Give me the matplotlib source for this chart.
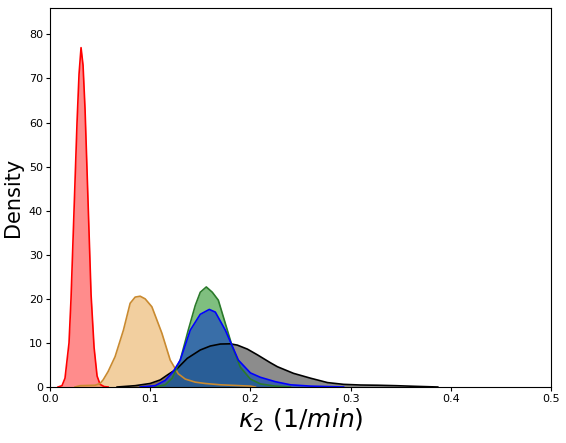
import matplotlib
matplotlib.use("Agg")
import matplotlib.pyplot as plt

# density curves (x in 1/min, y = density)
red_x = [0.008, 0.012, 0.015, 0.019, 0.021, 0.024, 0.027, 0.029, 0.031, 0.033, 0.035, 0.038, 0.041, 0.044, 0.047, 0.050, 0.054, 0.058]
red_y = [0, 0.3, 2, 10, 20, 40, 60, 71, 77, 73, 63, 42, 21, 9, 2.5, 0.6, 0.1, 0]

tan_x = [0.025, 0.030, 0.045, 0.050, 0.053, 0.058, 0.065, 0.0733, 0.080, 0.085, 0.090, 0.095, 0.1017, 0.1117, 0.120, 0.128, 0.135, 0.145, 0.155, 0.170, 0.185, 0.200, 0.205]
tan_y = [0, 0.3, 0.4, 0.8, 1.6, 3.5, 6.9, 12.9, 19, 20.4, 20.6, 20, 18.2, 12.2, 6.1, 3.0, 1.8, 1.1, 0.8, 0.5, 0.35, 0.2, 0]

green_x = [0.105, 0.115, 0.122, 0.130, 0.138, 0.145, 0.150, 0.156, 0.162, 0.168, 0.177, 0.182, 0.190, 0.200, 0.210, 0.225, 0.240]
green_y = [0, 0.5, 2, 6.1, 12.9, 18.5, 21.5, 22.7, 21.5, 19.7, 12.9, 9.1, 4.5, 1.8, 0.7, 0.2, 0]

blue_x = [0.090, 0.105, 0.115, 0.123, 0.130, 0.140, 0.150, 0.159, 0.165, 0.175, 0.188, 0.200, 0.210, 0.225, 0.240, 0.260, 0.293]
blue_y = [0, 0.3, 1.5, 3.5, 6.1, 12.9, 16.5, 17.6, 17, 12.9, 6.1, 3.2, 2.2, 1.2, 0.5, 0.2, 0]

black_x = [0.067, 0.085, 0.100, 0.110, 0.117, 0.127, 0.137, 0.150, 0.160, 0.170, 0.180, 0.187, 0.197, 0.207, 0.220, 0.227, 0.243, 0.260, 0.277, 0.293, 0.310, 0.327, 0.345, 0.365, 0.387]
black_y = [0, 0.3, 0.8, 1.6, 2.7, 4.2, 6.5, 8.4, 9.3, 9.75, 9.8, 9.5, 8.6, 7.3, 5.5, 4.6, 3.1, 2.0, 1.0, 0.6, 0.45, 0.4, 0.3, 0.15, 0]

xticks = [0.0, 0.1, 0.2, 0.3, 0.4, 0.5]
yticks = [0, 10, 20, 30, 40, 50, 60, 70, 80]

fig = plt.figure(figsize=(5.66, 4.43), dpi=100)
ax = fig.add_axes([0.0883, 0.1264, 0.8852, 0.8556])

# (x, y, fill colour, fill alpha, line colour)
series = [
    (red_x, red_y, "red", 0.45, "red"),
    (tan_x, tan_y, "#e8a850", 0.55, "#c98a30"),
    (black_x, black_y, "black", 0.45, "black"),
    (green_x, green_y, "green", 0.5, "#2a7a2a"),
    (blue_x, blue_y, "#1f4fb8", 0.72, "blue"),
]
for x, y, fc, a, lc in series:
    ax.fill_between(x, y, 0, color=fc, alpha=a, linewidth=0)
    ax.plot(x, y, color=lc, linewidth=1.2)

ax.set_xlim(0, 0.5)
ax.set_ylim(0, 86)
ax.set_xticks(xticks)
ax.set_yticks(yticks)
ax.tick_params(labelsize=8, length=3, pad=2)
ax.set_ylabel("Density", fontsize=15, labelpad=4)
ax.set_xlabel(r"$\kappa_2\ (1/min)$", fontsize=18, labelpad=2)

fig.savefig("out.png", dpi=100)
